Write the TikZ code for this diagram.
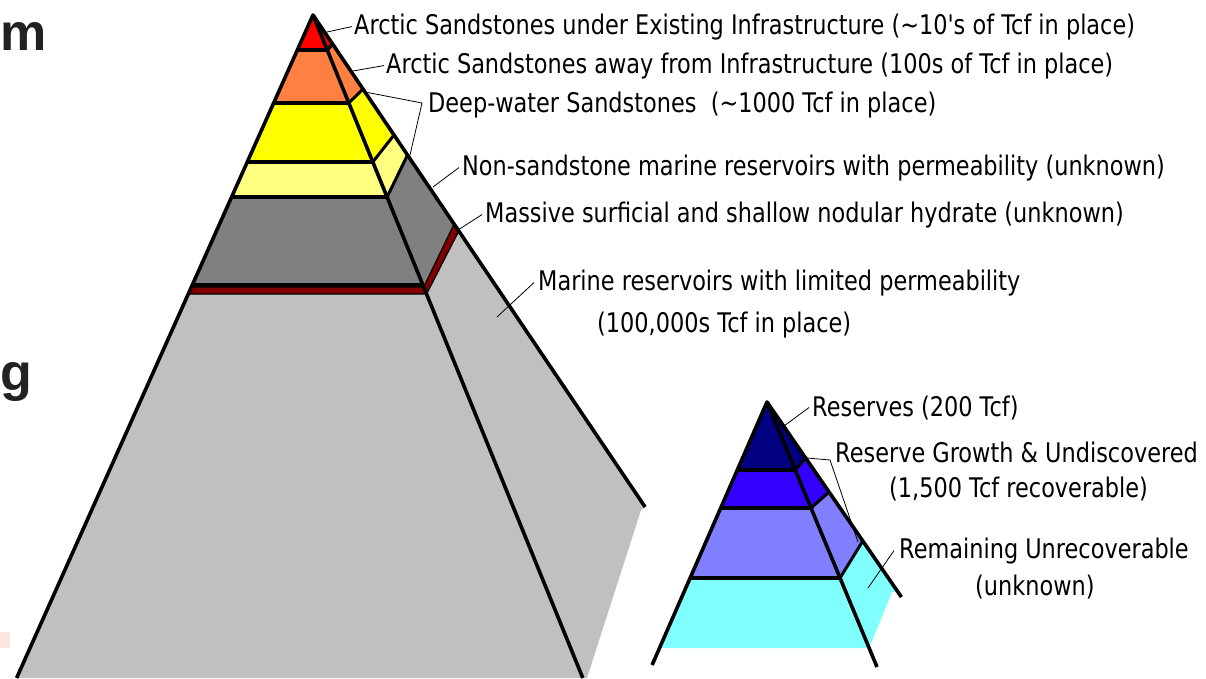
\documentclass[tikz,border=0pt]{standalone}
\usepackage{fontspec}
\usetikzlibrary{positioning}

\newfontfamily\labelFont[FakeStretch=0.83]{DejaVu Sans}
\newfontfamily\slideFont{Liberation Sans}

\definecolor{arcticRed}{RGB}{255,0,0}
\definecolor{arcticOrange}{RGB}{255,128,64}
\definecolor{deepYellow}{RGB}{255,255,0}
\definecolor{deepPale}{RGB}{255,255,128}
\definecolor{marineDark}{RGB}{128,128,128}
\definecolor{hydrateRed}{RGB}{128,0,0}
\definecolor{marineLight}{RGB}{192,192,192}
\definecolor{resNavy}{RGB}{0,0,128}
\definecolor{resBlue}{RGB}{51,0,255}
\definecolor{resMid}{RGB}{128,128,255}
\definecolor{resCyan}{RGB}{128,255,255}
\definecolor{slideGray}{RGB}{34,34,34}
\definecolor{slidePink}{RGB}{252,230,222}

\newcommand{\faceBand}[5]
{
    \fill[#1] (#2) -- (#3) -- (#4) -- (#5) -- cycle;
}

\begin{document}
\begin{tikzpicture}[x=1pt,y=-1pt,
    rim/.style={line width=3.6pt, line join=round},
    divider/.style={line width=3pt},
    leader/.style={line width=0.8pt},
    tag/.style={font=\labelFont\fontsize{27}{32}\selectfont, anchor=base west, inner sep=0pt},
    tagline/.style={tag, anchor=base west},
    slidetext/.style={font=\slideFont\bfseries\fontsize{52}{60}\selectfont, text=slideGray, anchor=base west, inner sep=0pt}]

    \useasboundingbox (0,0) rectangle (1206,678);
    \fill[white] (0,0) rectangle (1206,678);

    %draws cut-off slide text
    \node[slidetext] (slideM) at (0,50) {m};
    \node[slidetext] (slideG) at (0,390) {g};
    \fill[slidePink] (0,632) rectangle (10,648);

    %draws big pyramid, front face
    \fill[arcticRed] (313,15) -- (297.4,50) -- (327.2,50) -- cycle;
    \faceBand{arcticOrange}{297.4,50}{273.7,103}{348.8,103}{327.2,50}
    \faceBand{deepYellow}{273.7,103}{247.3,162}{372.8,162}{348.8,103}
    \faceBand{deepPale}{247.3,162}{231.6,197}{387.1,197}{372.8,162}
    \faceBand{marineDark}{231.6,197}{191.4,287}{423.7,287}{387.1,197}
    \faceBand{marineLight}{188.3,294}{16.6,678}{582.8,678}{426.6,294}

    %draws big pyramid, side face
    \fill[arcticRed] (313,15) -- (327.2,50) -- (332.6,44) -- cycle;
    \faceBand{arcticOrange}{327.2,50}{348.8,103}{363,89}{332.6,44}
    \faceBand{deepYellow}{348.8,103}{372.8,162}{394,135}{363,89}
    \faceBand{deepPale}{372.8,162}{387.1,197}{407.5,155}{394,135}
    \faceBand{marineDark}{387.1,197}{423.7,287}{454.1,224}{407.5,155}
    \fill[marineLight] (426.6,294) -- (582.8,678) -- (587,678)
        -- (641,510) -- (645.1,507) -- (458.8,231) -- cycle;

    %draws hydrate strip
    \draw[fill=hydrateRed, line width=1.2pt]
        (191.4,287) -- (423.7,287) -- (454.1,224) -- (458.8,231)
        -- (426.6,294) -- (188.3,294) -- cycle;

    %draws big pyramid lines
    \draw[rim] (297.4,50) -- (327.2,50) -- (332.6,44);
    \draw[rim] (273.7,103) -- (348.8,103);
    \draw[rim] (247.3,162) -- (372.8,162);
    \draw[rim] (231.6,197) -- (387.1,197);
    \draw[rim] (192.3,285) -- (422.9,285);
    \draw[divider] (348.8,103) -- (363,89);
    \draw[divider] (372.8,162) -- (394,135);
    \draw[divider] (387.1,197) -- (407.5,155);
    \draw[rim] (16.6,678) -- (313,15) -- (582.8,678);
    \draw[rim] (313,15) -- (645.1,507);

    %draws small pyramid, front face
    \fill[resNavy] (767,402) -- (737.3,470) -- (795.2,470) -- cycle;
    \faceBand{resBlue}{737.3,470}{720.7,508}{811,508}{795.2,470}
    \faceBand{resMid}{720.7,508}{690.1,578}{840,578}{811,508}
    \faceBand{resCyan}{690.1,578}{659.5,648}{869.1,648}{840,578}

    %draws small pyramid, side face
    \fill[resNavy] (767,402) -- (795.2,470) -- (805.6,458) -- cycle;
    \faceBand{resBlue}{795.2,470}{811,508}{829,492}{805.6,458}
    \faceBand{resMid}{811,508}{840,578}{862.8,541}{829,492}
    \fill[resCyan] (840,578) -- (869.1,648) -- (892,592) -- (898,592)
        -- (862.8,541) -- cycle;

    %draws small pyramid lines
    \draw[rim] (737.3,470) -- (795.2,470);
    \draw[rim] (720.7,508) -- (811,508);
    \draw[rim] (690.1,578) -- (840,578);
    \draw[divider] (795.2,470) -- (805.6,458);
    \draw[divider] (811,508) -- (829,492);
    \draw[divider] (840,578) -- (862.8,541);
    \draw[rim] (652.1,665) -- (767,402) -- (877,667);
    \draw[rim] (767,402) -- (901.4,597);

    %draws labels
    \node[tag] (arcticNear) at (354,34)
        {Arctic Sandstones under Existing Infrastructure (∼10's of Tcf in place)};
    \node[tag] (arcticFar) at (386,73)
        {Arctic Sandstones away from Infrastructure (100s of Tcf in place)};
    \node[tag] (deepWater) at (428,112)
        {Deep-water Sandstones\ \ (∼1000 Tcf in place)};
    \node[tag] (nonSand) at (462,175)
        {Non-sandstone marine reservoirs with permeability (unknown)};
    \node[tag] (hydrate) at (485,222)
        {Massive surficial and shallow nodular hydrate (unknown)};
    \node[tag] (marine) at (538,290)
        {Marine reservoirs with limited permeability};
    \node[tagline] (marineSub) at (597,332) {(100,000s Tcf in place)};
    \node[tag] (reserves) at (812,416) {Reserves (200 Tcf)};
    \node[tag] (growth) at (835,462) {Reserve Growth \& Undiscovered};
    \node[tagline] (growthSub) at (889,497) {(1,500 Tcf recoverable)};
    \node[tag] (remaining) at (899,558) {Remaining Unrecoverable};
    \node[tagline] (remainingSub) at (975,595) {(unknown)};

    %draws leader lines
    \coordinate (footArcticNear) at (327,32);
    \coordinate (footArcticFar) at (353,71);
    \coordinate (footDeepA) at (365,92);
    \coordinate (footDeepB) at (410,155);
    \coordinate (kinkDeep) at (422,103);
    \coordinate (footNonSand) at (433,187);
    \coordinate (footHydrate) at (458,230);
    \coordinate (footMarine) at (497,317);
    \coordinate (footReserves) at (784,426);
    \coordinate (footGrowthA) at (807,458);
    \coordinate (footGrowthB) at (858,542);
    \coordinate (kinkGrowth) at (830,460);
    \coordinate (footRemaining) at (868,588);

    \draw[leader] (footArcticNear) -- ([xshift=-2pt]arcticNear.west);
    \draw[leader] (footArcticFar) -- ([xshift=-2pt]arcticFar.west);
    \draw[leader] (footDeepA) -- (kinkDeep) -- (footDeepB);
    \draw[leader] (footNonSand) -- ([xshift=-3pt]nonSand.west);
    \draw[leader] (footHydrate) -- ([xshift=-3pt]hydrate.west);
    \draw[leader] (footMarine) -- ([xshift=-4pt]marine.west);
    \draw[leader] (footReserves) -- ([xshift=-3pt]reserves.west);
    \draw[leader] (footGrowthA) -- (kinkGrowth) -- (footGrowthB);
    \draw[leader] (footRemaining) -- ([xshift=-5pt]remaining.west);

\end{tikzpicture}
\end{document}
